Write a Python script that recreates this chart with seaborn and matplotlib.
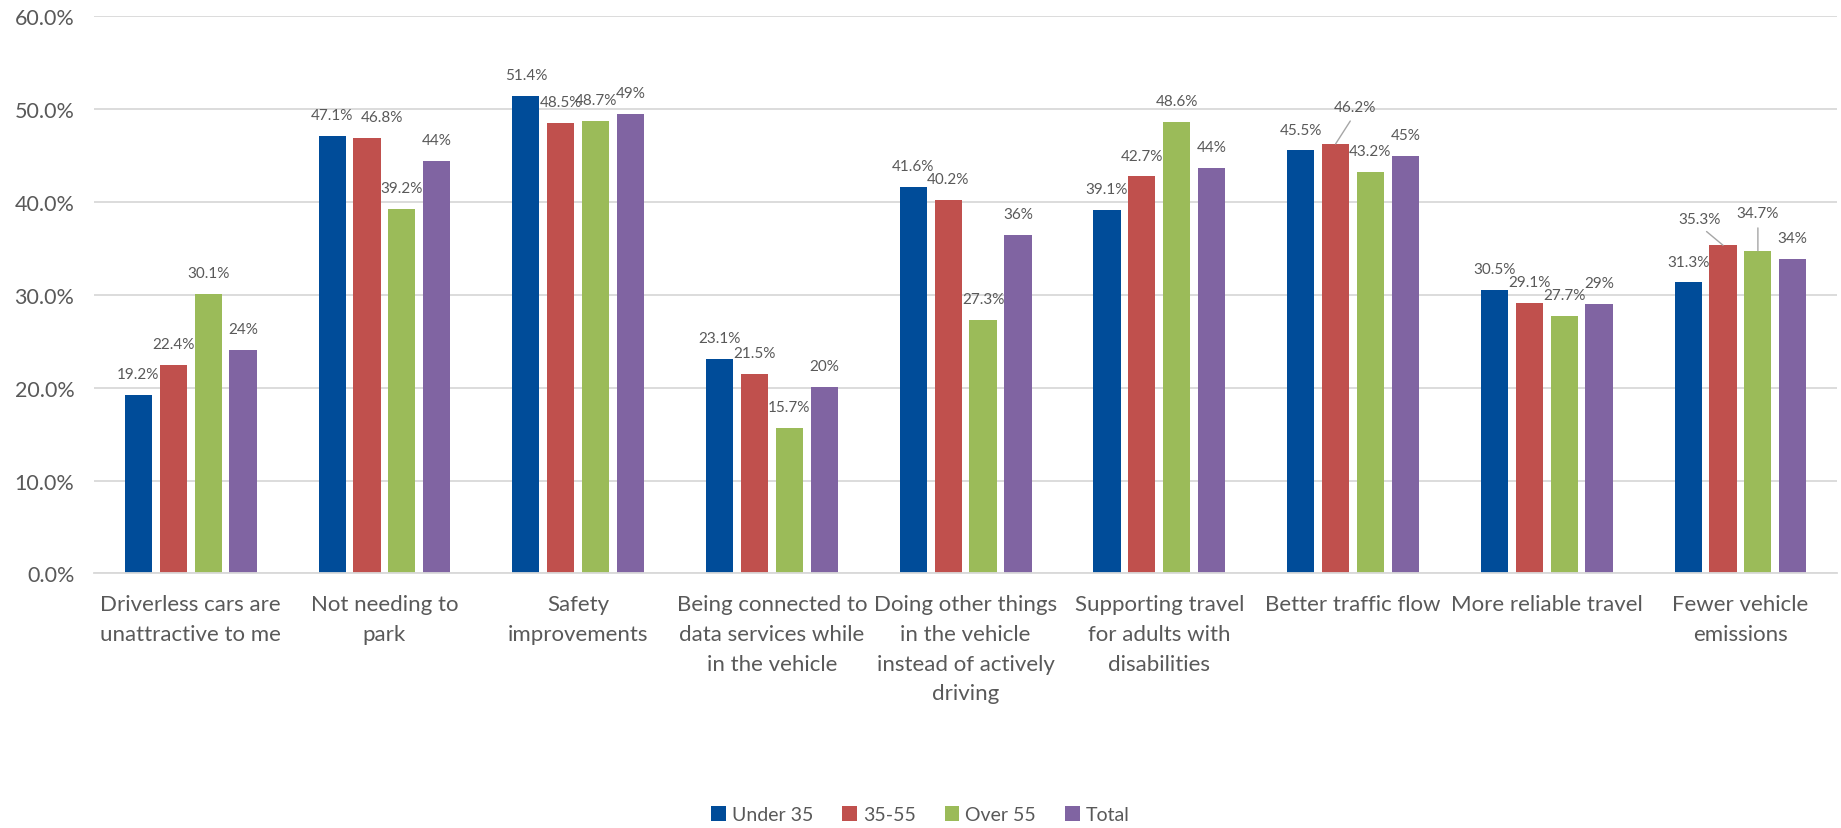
import matplotlib
matplotlib.use("Agg")
import matplotlib.pyplot as plt
import seaborn as sns
import pandas as pd
from matplotlib.ticker import FuncFormatter

categories = [
    "Driverless cars are\nunattractive to me",
    "Not needing to\npark",
    "Safety\nimprovements",
    "Being connected to\ndata services while\nin the vehicle",
    "Doing other things\nin the vehicle\ninstead of actively\ndriving",
    "Supporting travel\nfor adults with\ndisabilities",
    "Better traffic flow",
    "More reliable travel",
    "Fewer vehicle\nemissions",
]
groups = ["Under 35", "35-55", "Over 55", "Total"]
under_35 = [19.2, 47.1, 51.4, 23.1, 41.6, 39.1, 45.5, 30.5, 31.3]
age_35_55 = [22.4, 46.8, 48.5, 21.5, 40.2, 42.7, 46.2, 29.1, 35.3]
over_55 = [30.1, 39.2, 48.7, 15.7, 27.3, 48.6, 43.2, 27.7, 34.7]
total = [24.0, 44.4, 49.4, 20.1, 36.4, 43.6, 44.9, 29.0, 33.8]
y_ticks = [0, 10, 20, 30, 40, 50, 60]

series = [under_35, age_35_55, over_55, total]
colors = ["#004C99", "#C0504D", "#9BBB59", "#8064A2"]
label_fmt = ["{:.1f}%", "{:.1f}%", "{:.1f}%", "{:.0f}%"]

rows = []
for g, vals in zip(groups, series):
    for c, v in zip(categories, vals):
        rows.append({"category": c, "group": g, "value": v})
df = pd.DataFrame(rows)

sns.set_theme(style="white")
plt.rcParams["font.family"] = ["Lato", "DejaVu Sans"]
text_color = "#595959"

fig = plt.figure(figsize=(18.41, 8.29), dpi=100)
ax = fig.add_axes([0.051, 0.307, 0.947, 0.673])

sns.barplot(data=df, x="category", y="value", hue="group", order=categories,
            hue_order=groups, palette=colors, width=0.72, gap=0.22,
            saturation=1, linewidth=0, ax=ax, legend=True)

ax.set_xlim(-0.5, len(categories) - 0.5)
ax.set_ylim(0, 60)
ax.set_yticks(y_ticks)
ax.yaxis.set_major_formatter(FuncFormatter(lambda v, p: f"{v:.1f}%"))
ax.grid(axis="y", color="#D9D9D9", linewidth=1.3)
ax.grid(axis="x", visible=False)
ax.set_axisbelow(True)
for s in ["top", "right", "left"]:
    ax.spines[s].set_visible(False)
ax.spines["bottom"].set_color("#D9D9D9")
ax.spines["bottom"].set_linewidth(1.3)
ax.tick_params(axis="y", length=0, pad=14, labelsize=15.5, labelcolor=text_color)
ax.tick_params(axis="x", length=0, pad=15, labelsize=16, labelcolor=text_color)
for t in ax.get_xticklabels():
    t.set_linespacing(1.6)
ax.set_xlabel("")
ax.set_ylabel("")

# label offsets (points) for labels Excel moved to avoid overlaps
leader = {(1, 6): (13.7, 26.4), (1, 8): (-17, 19.2), (2, 8): (0, 26.9)}
shifted = {(1, 1): (10.8, 15)}

for gi, cont in enumerate(ax.containers):
    vals = series[gi]
    for ci, bar in enumerate(cont):
        x = bar.get_x() + bar.get_width() / 2
        y = bar.get_height()
        txt = label_fmt[gi].format(vals[ci])
        if (gi, ci) in leader:
            dx, dy = leader[(gi, ci)]
            ax.annotate(txt, xy=(x, y), xytext=(dx, dy), textcoords="offset points",
                        ha="center", va="center", fontsize=11, color=text_color,
                        arrowprops=dict(arrowstyle="-", color="#A6A6A6", lw=1,
                                        relpos=(0.5, 0), shrinkA=3, shrinkB=0))
        else:
            dx, dy = shifted.get((gi, ci), (0, 15))
            ax.annotate(txt, xy=(x, y), xytext=(dx, dy), textcoords="offset points",
                        ha="center", va="center", fontsize=11, color=text_color)

handles, labels = ax.get_legend_handles_labels()
ax.legend_.remove()
fig.legend(handles, labels, loc="center", bbox_to_anchor=(0.5, 0.016), ncol=4,
           frameon=False, fontsize=14, labelcolor=text_color, handlelength=0.75,
           handleheight=0.75, handletextpad=0.3, columnspacing=1.5)

fig.savefig("out.png", dpi=100)
